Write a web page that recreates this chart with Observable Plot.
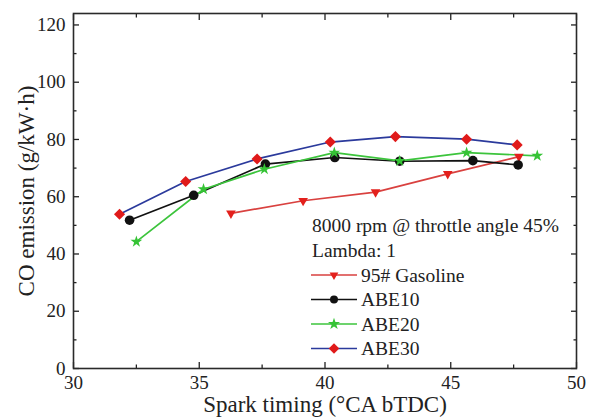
<!DOCTYPE html>
<html>
<head>
<meta charset="utf-8">
<script src="https://cdn.jsdelivr.net/npm/d3@7"></script>
<script src="https://cdn.jsdelivr.net/npm/@observablehq/plot@0.6"></script>
<style>
  body { margin: 0; background: #fff; }
  #chart svg, #chart svg text { font-family: "Liberation Serif", "Times New Roman", serif !important; }
  [aria-label="x-axis label"] text, [aria-label="y-axis label"] text { font-size: 23px; }
  .legend text { text-anchor: start; }
</style>
</head>
<body>
<div id="chart"></div>
<script>
// ---- data ----
const seriesNames = ["95# Gasoline", "ABE10", "ABE20", "ABE30"];
const gasolineX = [36.26, 39.13, 42.01, 44.88, 47.71];
const gasolineY = [54.2, 58.6, 61.6, 68.0, 74.0];
const abe10X = [32.23, 34.78, 37.63, 40.39, 42.97, 45.88, 47.68];
const abe10Y = [51.8, 60.5, 71.4, 73.7, 72.4, 72.6, 71.1];
const abe20X = [32.50, 35.17, 37.59, 40.37, 42.97, 45.63, 48.44];
const abe20Y = [44.3, 62.6, 69.6, 75.4, 72.5, 75.4, 74.3];
const abe30X = [31.83, 34.46, 37.30, 40.21, 42.80, 45.63, 47.64];
const abe30Y = [53.9, 65.3, 73.2, 79.1, 81.0, 80.1, 78.1];
const xMajor = [30, 35, 40, 45, 50];
const xMinor = [32.5, 37.5, 42.5, 47.5];
const yMajor = [0, 20, 40, 60, 80, 100, 120];
const yMinor = [10, 30, 50, 70, 90, 110];
const annotationLines = ["8000 rpm @ throttle angle 45%", "Lambda: 1"];

// ---- styles ----
const styles = {
  "95# Gasoline": {line: "#d9413f", fill: "#e3201c", symbol: "triangle2", rotate: 180, r: 4.6, lsym: d3.symbolTriangle2, lrot: 180, lsize: 55},
  "ABE10": {line: "#111111", fill: "#111111", symbol: "circle", rotate: 0, r: 4.8, lsym: d3.symbolCircle, lrot: 0, lsize: 50},
  "ABE20": {line: "#3cc43c", fill: "#35c335", symbol: "star", rotate: 0, r: 3.7, lsym: d3.symbolStar, lrot: 0, lsize: 45},
  "ABE30": {line: "#2b3a9c", fill: "#e01a1a", symbol: "diamond2", rotate: 0, r: 5.0, lsym: d3.symbolDiamond2, lrot: 0, lsize: 70}
};

const xs = [gasolineX, abe10X, abe20X, abe30X];
const ys = [gasolineY, abe10Y, abe20Y, abe30Y];
const rows = seriesNames.map((name, i) => xs[i].map((x, j) => ({series: name, x, y: ys[i][j]})));

const lineMarks = [];
const dotMarks = [];
seriesNames.forEach((name, i) => {
  const s = styles[name];
  lineMarks.push(Plot.line(rows[i], {x: "x", y: "y", stroke: s.line, strokeWidth: 1.7}));
  dotMarks.push(Plot.dot(rows[i], {x: "x", y: "y", symbol: s.symbol, rotate: s.rotate, r: s.r, fill: s.fill, stroke: "none"}));
});

// legend drawn in pixel space (layout only)
function legend(index, scales, values, dims) {
  const g = d3.create("svg:g")
    .attr("class", "legend")
    .attr("font-size", 19.5)
    .attr("text-anchor", "start")
    .attr("fill", "#222");
  const left = 311;
  annotationLines.forEach((t, i) => {
    g.append("text").attr("x", left + 1).attr("y", 225 + i * 25).attr("dy", "0.35em").text(t);
  });
  seriesNames.forEach((name, i) => {
    const s = styles[name];
    const cy = 275 + i * 24.5;
    g.append("line").attr("x1", left).attr("x2", left + 46).attr("y1", cy).attr("y2", cy)
      .attr("stroke", s.line).attr("stroke-width", 1.7);
    g.append("path").attr("d", d3.symbol(s.lsym, s.lsize)())
      .attr("transform", `translate(${left + 23},${cy}) rotate(${s.lrot})`)
      .attr("fill", s.fill);
    g.append("text").attr("x", left + 50).attr("y", cy).attr("dy", "0.35em").text(name);
  });
  return g.node();
}

const plot = Plot.plot({
  width: 589,
  height: 419,
  marginLeft: 73,
  marginRight: 13,
  marginTop: 13,
  marginBottom: 51,
  style: {fontFamily: '"Liberation Serif", serif', fontSize: "19px", color: "#222", background: "#fff"},
  x: {domain: [30, 50]},
  y: {domain: [0, 124]},
  marks: [
    // inward ticks, all four sides
    Plot.axisX({ticks: xMajor, anchor: "bottom", tickSize: -6, fill: "none", label: null, strokeWidth: 1.3}),
    Plot.axisX({ticks: xMinor, anchor: "bottom", tickSize: -3.5, fill: "none", label: null, strokeWidth: 1.3}),
    Plot.axisX({ticks: xMajor, anchor: "top", tickSize: -6, fill: "none", label: null, strokeWidth: 1.3}),
    Plot.axisX({ticks: xMinor, anchor: "top", tickSize: -3.5, fill: "none", label: null, strokeWidth: 1.3}),
    Plot.axisY({ticks: yMajor, anchor: "left", tickSize: -6, fill: "none", label: null, strokeWidth: 1.3}),
    Plot.axisY({ticks: yMinor, anchor: "left", tickSize: -3.5, fill: "none", label: null, strokeWidth: 1.3}),
    Plot.axisY({ticks: yMajor, anchor: "right", tickSize: -6, fill: "none", label: null, strokeWidth: 1.3}),
    Plot.axisY({ticks: yMinor, anchor: "right", tickSize: -3.5, fill: "none", label: null, strokeWidth: 1.3}),
    // tick labels + titles
    Plot.axisX({ticks: xMajor, anchor: "bottom", tickSize: 0, tickPadding: 7, tickFormat: d3.format("d"),
      label: "Spark timing (°CA bTDC)", labelAnchor: "center", labelArrow: "none", labelOffset: 43}),
    Plot.axisY({ticks: yMajor, anchor: "left", tickSize: 0, tickPadding: 8, tickFormat: d3.format("d"),
      label: "CO emission (g/kW·h)", labelAnchor: "center", labelArrow: "none", labelOffset: 56}),
    Plot.frame({stroke: "#2a2a2a", strokeWidth: 1.6}),
    ...lineMarks,
    ...dotMarks,
    legend
  ]
});
document.getElementById("chart").appendChild(plot);
</script>
</body>
</html>
